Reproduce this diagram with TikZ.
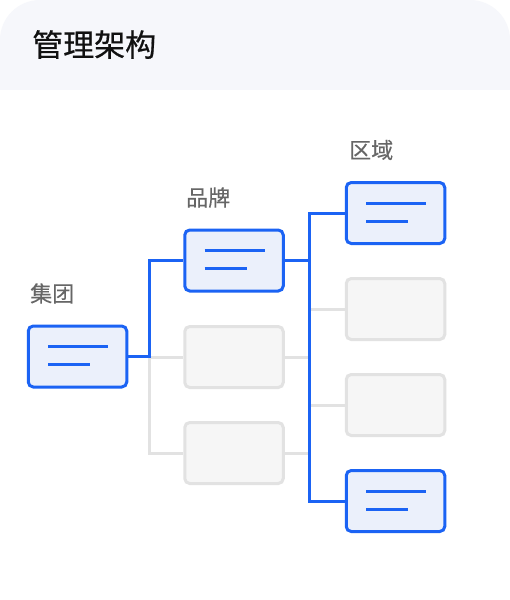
\documentclass[tikz,border=0pt]{standalone}
\usepackage{fontspec}
\setmainfont{Noto Sans CJK SC}
\newfontfamily\titlefont[FakeBold=0.6]{Noto Sans CJK SC}
\newfontfamily\labfont[FakeBold=0.3]{Noto Sans CJK SC}
\definecolor{hdr}{HTML}{F6F7FB}
\definecolor{act}{HTML}{1B63F4}
\definecolor{actfill}{HTML}{EBF0FB}
\definecolor{gline}{HTML}{E2E2E2}
\definecolor{gfill}{HTML}{F6F6F6}
\definecolor{lbl}{HTML}{666666}
\definecolor{ttl}{HTML}{111111}
\tikzset{
  card/.style={minimum width=98.5pt, minimum height=61pt, rounded corners=5pt, line width=3pt, inner sep=0pt},
  actbox/.style={card, draw=act, fill=actfill},
  idlebox/.style={card, draw=gline, fill=gfill},
  bline/.style={draw=act, line width=3pt},
  gcon/.style={draw=gline, line width=3pt},
  txtline/.style={draw=act, line width=3pt},
  lab/.style={font=\labfont\fontsize{22pt}{26pt}\selectfont, text=lbl, anchor=west, inner sep=0pt},
}
\begin{document}
\begin{tikzpicture}[x=1pt,y=-1pt]
\useasboundingbox (0,0) rectangle (510,600);
\fill[white] (0,0) rectangle (510,600);
\begin{scope}
\clip (0,0) rectangle (510,89);
\fill[hdr, rounded corners=40pt] (0,0) rectangle (510,200);
\end{scope}
\node[font=\titlefont\fontsize{31pt}{36pt}\selectfont, text=ttl, anchor=west, inner sep=0pt] (title) at (32,44.5) {管理架构};

\node[lab] (lg) at (30,293.5) {集团};
\node[lab] (lb) at (186,197.5) {品牌};
\node[lab] (lr) at (349,150) {区域};

\node[actbox] (g) at (77.5,356.5) {};
\node[actbox] (b1) at (234,260.5) {};
\node[idlebox] (b2) at (234,357) {};
\node[idlebox] (b3) at (234,453) {};
\node[actbox] (r1) at (395.5,213) {};
\node[idlebox] (r2) at (395.5,309) {};
\node[idlebox] (r3) at (395.5,405) {};
\node[actbox] (r4) at (395.5,501) {};

\coordinate (j1) at (149.5,356.5);
\coordinate (t4) at (309,501);

% gray connectors
\draw[gcon] (j1) |- (b2.west);
\draw[gcon] (j1) |- (b3.west);
\draw[gcon] (b2.east) -- (b2.east -| t4);
\draw[gcon] (b3.east) -- (b3.east -| t4);
\draw[gcon] (r2.west) -- (r2.west -| t4);
\draw[gcon] (r3.west) -- (r3.west -| t4);
% blue connectors
\draw[bline] (g.east) -- (j1) |- (b1.west);
\draw[bline] (b1.east) -- (b1.east -| t4);
\draw[bline] (r1.west) -| (t4) -- (r4.west);

% text lines inside active boxes
\foreach \n in {g,b1,r1,r4}{
  \draw[txtline] ([xshift=-29.5pt,yshift=10pt]\n.center) -- ([xshift=30.5pt,yshift=10pt]\n.center);
  \draw[txtline] ([xshift=-29.5pt,yshift=-8pt]\n.center) -- ([xshift=12.5pt,yshift=-8pt]\n.center);
}
\end{tikzpicture}
\end{document}
